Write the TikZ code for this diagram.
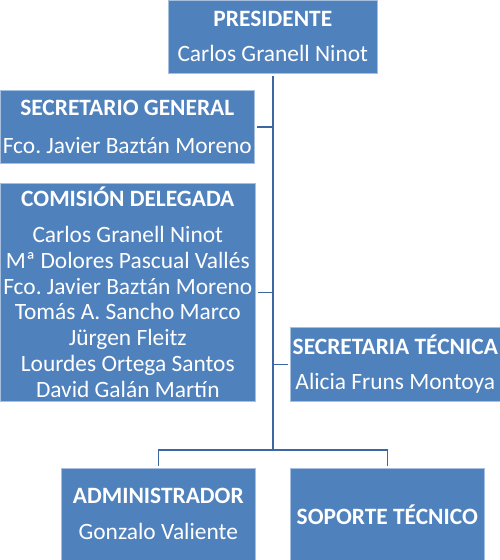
\documentclass[tikz,border=0pt]{standalone}
\usepackage{fontspec}
\setmainfont{Carlito}
\usepackage{tikz}
\usetikzlibrary{positioning}
\frenchspacing

\definecolor{boxblue}{HTML}{4F81BD}
\definecolor{boxedge}{HTML}{A7BFDE}
\definecolor{linkblue}{HTML}{3D67A3}

\begin{document}
\begin{tikzpicture}[x=1pt, y=-1pt,
    orgbox/.style={rectangle, fill=boxblue, draw=boxedge, line width=0.6pt,
        text=white, align=center, inner sep=0pt, anchor=north west,
        font=\fontsize{23.4}{25.8}\selectfont},
    link/.style={draw=linkblue, line width=1.6pt, shorten <=2.5pt, shorten >=2.5pt}]

    % Marco
    \useasboundingbox (0,0) rectangle (500,560);

    % Cajas
    \node[orgbox, minimum width=209pt, minimum height=73pt] (pres) at (168,0)
        {\textbf{PRESIDENTE}\\[9pt] Carlos Granell Ninot};
    \node[orgbox, minimum width=254pt, minimum height=73pt] (secgen) at (0,90)
        {\textbf{SECRETARIO GENERAL}\\[12pt] Fco. Javier Baztán Moreno};
    \node[orgbox, minimum width=255pt, minimum height=218pt] (comdel) at (0,183)
        {\textbf{COMISIÓN DELEGADA}\\[10pt] Carlos Granell Ninot\\ Mª Dolores Pascual Vallés\\
         Fco. Javier Baztán Moreno\\ Tomás A. Sancho Marco\\ Jürgen Fleitz\\
         Lourdes Ortega Santos\\ David Galán Martín};
    \node[orgbox, minimum width=210pt, minimum height=74pt] (sectec) at (290,327)
        {\textbf{SECRETARIA TÉCNICA}\\[9pt] Alicia Fruns Montoya};
    \node[orgbox, minimum width=194pt, minimum height=92pt] (admin) at (61,468)
        {\textbf{ADMINISTRADOR}\\[10pt] Gonzalo Valiente};
    \node[orgbox, minimum width=194pt, minimum height=92pt] (soporte) at (290,468)
        {\textbf{SOPORTE TÉCNICO}};

    % Conectores
    \coordinate (bus) at (pres.south |- 0,450);
    \draw[link, shorten >=0pt] (pres.south) -- (bus);
    \draw[link, shorten >=0pt] (secgen.east) -- (secgen.east -| bus);
    \draw[link, shorten >=0pt] (comdel.east) -- (comdel.east -| bus);
    \draw[link, shorten >=0pt] (sectec.west) -- (sectec.west -| bus);
    \draw[link, shorten <=0pt] (bus) -| (admin.north);
    \draw[link, shorten <=0pt] (bus) -| (soporte.north);

\end{tikzpicture}
\end{document}
